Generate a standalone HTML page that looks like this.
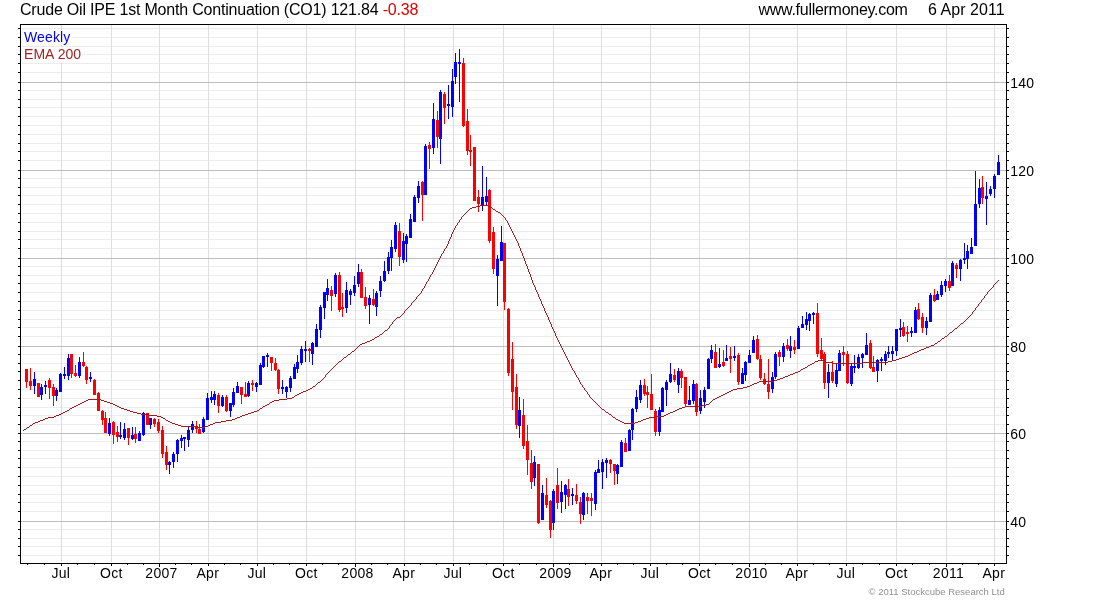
<!DOCTYPE html>
<html><head><meta charset="utf-8"><title>Crude Oil IPE 1st Month Continuation (CO1)</title>
<style>
html,body{margin:0;padding:0;background:#fff}
body{width:1100px;height:600px;position:relative;overflow:hidden;font-family:"Liberation Sans",Arial,sans-serif;color:#000}
.t{position:absolute;white-space:nowrap;font-size:16px;line-height:18px;top:1px}
.xl{position:absolute;top:565px;width:61px;text-align:center;font-size:14px;line-height:16px;white-space:nowrap;letter-spacing:0.25px}
.yr{letter-spacing:0.3px}
.yl{position:absolute;left:1010.2px;font-size:14px;line-height:16px;white-space:nowrap;letter-spacing:0.2px}
.lg{position:absolute;left:22px;padding:0 3px 0 2px;font-size:14px;line-height:15px;height:15px;white-space:nowrap;background:#fff;letter-spacing:0.3px}
.cp{position:absolute;left:868.5px;top:586px;font-size:9.5px;line-height:12px;color:#909090;white-space:nowrap}
</style></head><body>
<svg width="1100" height="600" viewBox="0 0 1100 600" shape-rendering="crispEdges" style="position:absolute;left:0;top:0">
<g fill="#ececec">
<rect x="22" y="72" width="983" height="1"/>
<rect x="22" y="63" width="983" height="1"/>
<rect x="22" y="54" width="983" height="1"/>
<rect x="22" y="46" width="983" height="1"/>
<rect x="22" y="37" width="983" height="1"/>
<rect x="22" y="28" width="983" height="1"/>
<rect x="22" y="90" width="983" height="1"/>
<rect x="22" y="99" width="983" height="1"/>
<rect x="22" y="107" width="983" height="1"/>
<rect x="22" y="116" width="983" height="1"/>
<rect x="22" y="125" width="983" height="1"/>
<rect x="22" y="134" width="983" height="1"/>
<rect x="22" y="143" width="983" height="1"/>
<rect x="22" y="151" width="983" height="1"/>
<rect x="22" y="160" width="983" height="1"/>
<rect x="22" y="178" width="983" height="1"/>
<rect x="22" y="187" width="983" height="1"/>
<rect x="22" y="195" width="983" height="1"/>
<rect x="22" y="204" width="983" height="1"/>
<rect x="22" y="213" width="983" height="1"/>
<rect x="22" y="222" width="983" height="1"/>
<rect x="22" y="231" width="983" height="1"/>
<rect x="22" y="239" width="983" height="1"/>
<rect x="22" y="248" width="983" height="1"/>
<rect x="22" y="266" width="983" height="1"/>
<rect x="22" y="275" width="983" height="1"/>
<rect x="22" y="283" width="983" height="1"/>
<rect x="22" y="292" width="983" height="1"/>
<rect x="22" y="301" width="983" height="1"/>
<rect x="22" y="310" width="983" height="1"/>
<rect x="22" y="319" width="983" height="1"/>
<rect x="22" y="327" width="983" height="1"/>
<rect x="22" y="336" width="983" height="1"/>
<rect x="22" y="354" width="983" height="1"/>
<rect x="22" y="363" width="983" height="1"/>
<rect x="22" y="371" width="983" height="1"/>
<rect x="22" y="380" width="983" height="1"/>
<rect x="22" y="389" width="983" height="1"/>
<rect x="22" y="398" width="983" height="1"/>
<rect x="22" y="407" width="983" height="1"/>
<rect x="22" y="415" width="983" height="1"/>
<rect x="22" y="424" width="983" height="1"/>
<rect x="22" y="441" width="983" height="1"/>
<rect x="22" y="450" width="983" height="1"/>
<rect x="22" y="458" width="983" height="1"/>
<rect x="22" y="467" width="983" height="1"/>
<rect x="22" y="476" width="983" height="1"/>
<rect x="22" y="485" width="983" height="1"/>
<rect x="22" y="494" width="983" height="1"/>
<rect x="22" y="502" width="983" height="1"/>
<rect x="22" y="511" width="983" height="1"/>
<rect x="22" y="529" width="983" height="1"/>
<rect x="22" y="538" width="983" height="1"/>
<rect x="22" y="546" width="983" height="1"/>
<rect x="22" y="555" width="983" height="1"/>
</g><g fill="#dedede">
<rect x="61" y="25" width="1" height="537"/>
<rect x="111" y="25" width="1" height="537"/>
<rect x="159" y="25" width="1" height="537"/>
<rect x="208" y="25" width="1" height="537"/>
<rect x="257" y="25" width="1" height="537"/>
<rect x="306" y="25" width="1" height="537"/>
<rect x="355" y="25" width="1" height="537"/>
<rect x="404" y="25" width="1" height="537"/>
<rect x="453" y="25" width="1" height="537"/>
<rect x="503" y="25" width="1" height="537"/>
<rect x="553" y="25" width="1" height="537"/>
<rect x="601" y="25" width="1" height="537"/>
<rect x="650" y="25" width="1" height="537"/>
<rect x="699" y="25" width="1" height="537"/>
<rect x="749" y="25" width="1" height="537"/>
<rect x="797" y="25" width="1" height="537"/>
<rect x="846" y="25" width="1" height="537"/>
<rect x="896" y="25" width="1" height="537"/>
<rect x="946" y="25" width="1" height="537"/>
<rect x="994" y="25" width="1" height="537"/>
</g><g fill="#bcbcbc">
<rect x="21" y="82" width="985" height="1"/>
<rect x="21" y="170" width="985" height="1"/>
<rect x="21" y="258" width="985" height="1"/>
<rect x="21" y="346" width="985" height="1"/>
<rect x="21" y="433" width="985" height="1"/>
<rect x="21" y="521" width="985" height="1"/>
</g>
<g fill="#ff0000">
<rect x="26" y="369" width="1" height="19"/><rect x="25" y="369" width="3" height="13"/>
<rect x="30" y="368" width="1" height="22"/><rect x="29" y="381" width="3" height="5"/>
</g>
<g fill="#0000ff">
<rect x="34" y="372" width="1" height="22"/><rect x="33" y="379" width="3" height="7"/>
</g>
<g fill="#ff0000">
<rect x="38" y="383" width="1" height="14"/><rect x="37" y="383" width="3" height="14"/>
</g>
<g fill="#0000ff">
<rect x="41" y="384" width="1" height="16"/><rect x="40" y="387" width="3" height="8"/>
<rect x="45" y="381" width="1" height="13"/><rect x="44" y="385" width="3" height="2"/>
</g>
<g fill="#ff0000">
<rect x="49" y="378" width="1" height="21"/><rect x="48" y="380" width="3" height="8"/>
<rect x="53" y="384" width="1" height="22"/><rect x="52" y="387" width="3" height="9"/>
</g>
<g fill="#0000ff">
<rect x="56" y="388" width="1" height="13"/><rect x="55" y="390" width="3" height="6"/>
<rect x="60" y="373" width="1" height="19"/><rect x="59" y="374" width="3" height="18"/>
<rect x="64" y="367" width="1" height="12"/><rect x="63" y="374" width="3" height="2"/>
<rect x="68" y="354" width="1" height="26"/><rect x="67" y="358" width="3" height="18"/>
</g>
<g fill="#ff0000">
<rect x="71" y="354" width="1" height="24"/><rect x="70" y="354" width="3" height="20"/>
<rect x="75" y="365" width="1" height="12"/><rect x="74" y="373" width="3" height="3"/>
</g>
<g fill="#0000ff">
<rect x="79" y="357" width="1" height="21"/><rect x="78" y="362" width="3" height="14"/>
</g>
<g fill="#ff0000">
<rect x="83" y="352" width="1" height="15"/><rect x="82" y="362" width="3" height="4"/>
<rect x="86" y="366" width="1" height="18"/><rect x="85" y="367" width="3" height="13"/>
</g>
<g fill="#0000ff">
<rect x="90" y="372" width="1" height="10"/><rect x="89" y="377" width="3" height="2"/>
</g>
<g fill="#ff0000">
<rect x="94" y="379" width="1" height="16"/><rect x="93" y="380" width="3" height="15"/>
<rect x="98" y="392" width="1" height="19"/><rect x="97" y="393" width="3" height="18"/>
<rect x="102" y="410" width="1" height="15"/><rect x="101" y="411" width="3" height="9"/>
<rect x="105" y="412" width="1" height="21"/><rect x="104" y="418" width="3" height="15"/>
</g>
<g fill="#0000ff">
<rect x="109" y="418" width="1" height="18"/><rect x="108" y="423" width="3" height="11"/>
</g>
<g fill="#ff0000">
<rect x="113" y="421" width="1" height="23"/><rect x="112" y="422" width="3" height="13"/>
<rect x="117" y="426" width="1" height="16"/><rect x="116" y="432" width="3" height="5"/>
</g>
<g fill="#0000ff">
<rect x="120" y="422" width="1" height="17"/><rect x="119" y="435" width="3" height="2"/>
<rect x="124" y="423" width="1" height="17"/><rect x="123" y="429" width="3" height="9"/>
</g>
<g fill="#ff0000">
<rect x="128" y="428" width="1" height="17"/><rect x="127" y="428" width="3" height="10"/>
</g>
<g fill="#0000ff">
<rect x="132" y="427" width="1" height="13"/><rect x="131" y="435" width="3" height="4"/>
</g>
<g fill="#ff0000">
<rect x="135" y="427" width="1" height="16"/><rect x="134" y="434" width="3" height="5"/>
</g>
<g fill="#0000ff">
<rect x="139" y="431" width="1" height="10"/><rect x="138" y="433" width="3" height="8"/>
<rect x="143" y="412" width="1" height="24"/><rect x="142" y="413" width="3" height="22"/>
</g>
<g fill="#ff0000">
<rect x="147" y="413" width="1" height="12"/><rect x="146" y="413" width="3" height="12"/>
</g>
<g fill="#0000ff">
<rect x="150" y="418" width="1" height="11"/><rect x="149" y="418" width="3" height="7"/>
</g>
<g fill="#ff0000">
<rect x="154" y="418" width="1" height="9"/><rect x="153" y="419" width="3" height="5"/>
<rect x="158" y="419" width="1" height="14"/><rect x="157" y="422" width="3" height="9"/>
<rect x="162" y="426" width="1" height="32"/><rect x="161" y="430" width="3" height="24"/>
<rect x="166" y="446" width="1" height="24"/><rect x="165" y="452" width="3" height="13"/>
</g>
<g fill="#0000ff">
<rect x="169" y="461" width="1" height="13"/><rect x="168" y="462" width="3" height="3"/>
<rect x="173" y="452" width="1" height="16"/><rect x="172" y="454" width="3" height="8"/>
<rect x="177" y="439" width="1" height="23"/><rect x="176" y="440" width="3" height="14"/>
<rect x="181" y="435" width="1" height="13"/><rect x="180" y="438" width="3" height="3"/>
<rect x="184" y="437" width="1" height="14"/><rect x="183" y="437" width="3" height="2"/>
<rect x="188" y="427" width="1" height="20"/><rect x="187" y="430" width="3" height="10"/>
<rect x="192" y="421" width="1" height="12"/><rect x="191" y="424" width="3" height="6"/>
</g>
<g fill="#ff0000">
<rect x="196" y="421" width="1" height="12"/><rect x="195" y="426" width="3" height="3"/>
<rect x="199" y="424" width="1" height="10"/><rect x="198" y="429" width="3" height="5"/>
</g>
<g fill="#0000ff">
<rect x="203" y="417" width="1" height="16"/><rect x="202" y="419" width="3" height="13"/>
<rect x="207" y="393" width="1" height="27"/><rect x="206" y="398" width="3" height="22"/>
<rect x="211" y="391" width="1" height="12"/><rect x="210" y="397" width="3" height="3"/>
<rect x="214" y="391" width="1" height="14"/><rect x="213" y="394" width="3" height="6"/>
</g>
<g fill="#ff0000">
<rect x="218" y="393" width="1" height="20"/><rect x="217" y="395" width="3" height="11"/>
</g>
<g fill="#0000ff">
<rect x="222" y="395" width="1" height="12"/><rect x="221" y="397" width="3" height="9"/>
</g>
<g fill="#ff0000">
<rect x="226" y="395" width="1" height="17"/><rect x="225" y="397" width="3" height="14"/>
</g>
<g fill="#0000ff">
<rect x="230" y="403" width="1" height="14"/><rect x="229" y="403" width="3" height="8"/>
<rect x="233" y="388" width="1" height="19"/><rect x="232" y="392" width="3" height="13"/>
<rect x="237" y="382" width="1" height="11"/><rect x="236" y="386" width="3" height="7"/>
</g>
<g fill="#ff0000">
<rect x="241" y="387" width="1" height="17"/><rect x="240" y="387" width="3" height="8"/>
<rect x="245" y="382" width="1" height="15"/><rect x="244" y="394" width="3" height="3"/>
</g>
<g fill="#0000ff">
<rect x="248" y="381" width="1" height="16"/><rect x="247" y="383" width="3" height="13"/>
</g>
<g fill="#ff0000">
<rect x="252" y="380" width="1" height="11"/><rect x="251" y="383" width="3" height="2"/>
</g>
<g fill="#0000ff">
<rect x="256" y="382" width="1" height="10"/><rect x="255" y="383" width="3" height="4"/>
<rect x="260" y="363" width="1" height="22"/><rect x="259" y="365" width="3" height="20"/>
<rect x="263" y="356" width="1" height="12"/><rect x="262" y="356" width="3" height="11"/>
<rect x="267" y="353" width="1" height="14"/><rect x="266" y="355" width="3" height="2"/>
</g>
<g fill="#ff0000">
<rect x="271" y="357" width="1" height="14"/><rect x="270" y="357" width="3" height="6"/>
<rect x="275" y="358" width="1" height="13"/><rect x="274" y="363" width="3" height="7"/>
<rect x="278" y="369" width="1" height="25"/><rect x="277" y="370" width="3" height="19"/>
</g>
<g fill="#0000ff">
<rect x="282" y="380" width="1" height="14"/><rect x="281" y="387" width="3" height="2"/>
<rect x="286" y="386" width="1" height="12"/><rect x="285" y="387" width="3" height="5"/>
<rect x="290" y="376" width="1" height="16"/><rect x="289" y="378" width="3" height="10"/>
<rect x="294" y="364" width="1" height="15"/><rect x="293" y="367" width="3" height="12"/>
<rect x="297" y="355" width="1" height="18"/><rect x="296" y="362" width="3" height="7"/>
<rect x="301" y="346" width="1" height="19"/><rect x="300" y="349" width="3" height="14"/>
<rect x="305" y="341" width="1" height="21"/><rect x="304" y="349" width="3" height="2"/>
</g>
<g fill="#ff0000">
<rect x="309" y="348" width="1" height="14"/><rect x="308" y="349" width="3" height="2"/>
</g>
<g fill="#0000ff">
<rect x="312" y="342" width="1" height="23"/><rect x="311" y="343" width="3" height="11"/>
<rect x="316" y="324" width="1" height="23"/><rect x="315" y="329" width="3" height="18"/>
<rect x="320" y="305" width="1" height="33"/><rect x="319" y="307" width="3" height="23"/>
<rect x="324" y="292" width="1" height="27"/><rect x="323" y="292" width="3" height="16"/>
<rect x="327" y="279" width="1" height="22"/><rect x="326" y="288" width="3" height="7"/>
</g>
<g fill="#ff0000">
<rect x="331" y="286" width="1" height="25"/><rect x="330" y="290" width="3" height="6"/>
</g>
<g fill="#0000ff">
<rect x="335" y="273" width="1" height="24"/><rect x="334" y="275" width="3" height="19"/>
</g>
<g fill="#ff0000">
<rect x="339" y="272" width="1" height="40"/><rect x="338" y="275" width="3" height="35"/>
<rect x="342" y="293" width="1" height="24"/><rect x="341" y="307" width="3" height="2"/>
</g>
<g fill="#0000ff">
<rect x="346" y="282" width="1" height="31"/><rect x="345" y="290" width="3" height="18"/>
<rect x="350" y="289" width="1" height="16"/><rect x="349" y="291" width="3" height="4"/>
<rect x="354" y="276" width="1" height="20"/><rect x="353" y="285" width="3" height="8"/>
<rect x="358" y="264" width="1" height="23"/><rect x="357" y="272" width="3" height="12"/>
</g>
<g fill="#ff0000">
<rect x="361" y="269" width="1" height="29"/><rect x="360" y="272" width="3" height="26"/>
<rect x="365" y="287" width="1" height="22"/><rect x="364" y="297" width="3" height="9"/>
</g>
<g fill="#0000ff">
<rect x="369" y="295" width="1" height="29"/><rect x="368" y="298" width="3" height="7"/>
</g>
<g fill="#ff0000">
<rect x="373" y="289" width="1" height="17"/><rect x="372" y="299" width="3" height="6"/>
</g>
<g fill="#0000ff">
<rect x="376" y="291" width="1" height="25"/><rect x="375" y="293" width="3" height="14"/>
<rect x="380" y="276" width="1" height="21"/><rect x="379" y="281" width="3" height="10"/>
<rect x="384" y="261" width="1" height="21"/><rect x="383" y="271" width="3" height="10"/>
<rect x="388" y="252" width="1" height="22"/><rect x="387" y="257" width="3" height="14"/>
<rect x="391" y="240" width="1" height="31"/><rect x="390" y="247" width="3" height="11"/>
<rect x="395" y="222" width="1" height="30"/><rect x="394" y="225" width="3" height="24"/>
</g>
<g fill="#ff0000">
<rect x="399" y="223" width="1" height="43"/><rect x="398" y="231" width="3" height="26"/>
</g>
<g fill="#0000ff">
<rect x="403" y="233" width="1" height="30"/><rect x="402" y="241" width="3" height="19"/>
<rect x="406" y="234" width="1" height="28"/><rect x="405" y="236" width="3" height="8"/>
<rect x="410" y="214" width="1" height="24"/><rect x="409" y="219" width="3" height="19"/>
<rect x="414" y="195" width="1" height="27"/><rect x="413" y="197" width="3" height="25"/>
<rect x="418" y="181" width="1" height="22"/><rect x="417" y="186" width="3" height="12"/>
</g>
<g fill="#ff0000">
<rect x="422" y="181" width="1" height="40"/><rect x="421" y="182" width="3" height="13"/>
</g>
<g fill="#0000ff">
<rect x="425" y="144" width="1" height="51"/><rect x="424" y="146" width="3" height="49"/>
</g>
<g fill="#ff0000">
<rect x="429" y="142" width="1" height="27"/><rect x="428" y="145" width="3" height="4"/>
</g>
<g fill="#0000ff">
<rect x="433" y="103" width="1" height="51"/><rect x="432" y="119" width="3" height="29"/>
</g>
<g fill="#ff0000">
<rect x="437" y="111" width="1" height="37"/><rect x="436" y="120" width="3" height="17"/>
</g>
<g fill="#0000ff">
<rect x="440" y="90" width="1" height="74"/><rect x="439" y="92" width="3" height="47"/>
</g>
<g fill="#ff0000">
<rect x="444" y="92" width="1" height="32"/><rect x="443" y="94" width="3" height="14"/>
</g>
<g fill="#0000ff">
<rect x="448" y="85" width="1" height="34"/><rect x="447" y="104" width="3" height="2"/>
<rect x="452" y="69" width="1" height="48"/><rect x="451" y="81" width="3" height="26"/>
<rect x="455" y="53" width="1" height="31"/><rect x="454" y="62" width="3" height="15"/>
<rect x="459" y="49" width="1" height="53"/><rect x="458" y="62" width="3" height="2"/>
</g>
<g fill="#ff0000">
<rect x="463" y="58" width="1" height="69"/><rect x="462" y="63" width="3" height="63"/>
<rect x="467" y="109" width="1" height="46"/><rect x="466" y="121" width="3" height="30"/>
<rect x="470" y="135" width="1" height="31"/><rect x="469" y="150" width="3" height="2"/>
<rect x="474" y="147" width="1" height="54"/><rect x="473" y="147" width="3" height="54"/>
<rect x="478" y="190" width="1" height="22"/><rect x="477" y="197" width="3" height="7"/>
</g>
<g fill="#0000ff">
<rect x="482" y="166" width="1" height="45"/><rect x="481" y="197" width="3" height="8"/>
<rect x="486" y="177" width="1" height="29"/><rect x="485" y="196" width="3" height="6"/>
</g>
<g fill="#ff0000">
<rect x="489" y="189" width="1" height="54"/><rect x="488" y="190" width="3" height="51"/>
<rect x="493" y="227" width="1" height="47"/><rect x="492" y="232" width="3" height="37"/>
</g>
<g fill="#0000ff">
<rect x="497" y="255" width="1" height="51"/><rect x="496" y="259" width="3" height="17"/>
<rect x="501" y="226" width="1" height="35"/><rect x="500" y="242" width="3" height="19"/>
</g>
<g fill="#ff0000">
<rect x="504" y="243" width="1" height="67"/><rect x="503" y="243" width="3" height="59"/>
<rect x="508" y="308" width="1" height="68"/><rect x="507" y="309" width="3" height="64"/>
<rect x="512" y="342" width="1" height="68"/><rect x="511" y="359" width="3" height="33"/>
<rect x="516" y="374" width="1" height="55"/><rect x="515" y="387" width="3" height="38"/>
</g>
<g fill="#0000ff">
<rect x="519" y="397" width="1" height="41"/><rect x="518" y="410" width="3" height="16"/>
</g>
<g fill="#ff0000">
<rect x="523" y="399" width="1" height="50"/><rect x="522" y="415" width="3" height="31"/>
<rect x="527" y="425" width="1" height="50"/><rect x="526" y="441" width="3" height="19"/>
<rect x="531" y="450" width="1" height="39"/><rect x="530" y="463" width="3" height="19"/>
</g>
<g fill="#0000ff">
<rect x="534" y="456" width="1" height="30"/><rect x="533" y="462" width="3" height="16"/>
</g>
<g fill="#ff0000">
<rect x="538" y="464" width="1" height="60"/><rect x="537" y="464" width="3" height="59"/>
</g>
<g fill="#0000ff">
<rect x="542" y="485" width="1" height="35"/><rect x="541" y="493" width="3" height="27"/>
</g>
<g fill="#ff0000">
<rect x="546" y="478" width="1" height="30"/><rect x="545" y="495" width="3" height="10"/>
<rect x="550" y="500" width="1" height="38"/><rect x="549" y="501" width="3" height="29"/>
</g>
<g fill="#0000ff">
<rect x="553" y="489" width="1" height="41"/><rect x="552" y="491" width="3" height="32"/>
</g>
<g fill="#ff0000">
<rect x="557" y="468" width="1" height="41"/><rect x="556" y="485" width="3" height="18"/>
</g>
<g fill="#0000ff">
<rect x="561" y="481" width="1" height="32"/><rect x="560" y="492" width="3" height="10"/>
<rect x="565" y="484" width="1" height="25"/><rect x="564" y="485" width="3" height="10"/>
</g>
<g fill="#ff0000">
<rect x="568" y="479" width="1" height="27"/><rect x="567" y="489" width="3" height="8"/>
</g>
<g fill="#0000ff">
<rect x="572" y="488" width="1" height="17"/><rect x="571" y="494" width="3" height="2"/>
</g>
<g fill="#ff0000">
<rect x="576" y="484" width="1" height="20"/><rect x="575" y="495" width="3" height="6"/>
<rect x="580" y="497" width="1" height="27"/><rect x="579" y="502" width="3" height="12"/>
</g>
<g fill="#0000ff">
<rect x="583" y="492" width="1" height="28"/><rect x="582" y="493" width="3" height="22"/>
</g>
<g fill="#ff0000">
<rect x="587" y="493" width="1" height="21"/><rect x="586" y="497" width="3" height="4"/>
<rect x="591" y="493" width="1" height="23"/><rect x="590" y="498" width="3" height="3"/>
</g>
<g fill="#0000ff">
<rect x="595" y="470" width="1" height="40"/><rect x="594" y="472" width="3" height="32"/>
<rect x="598" y="460" width="1" height="13"/><rect x="597" y="469" width="3" height="4"/>
<rect x="602" y="459" width="1" height="30"/><rect x="601" y="462" width="3" height="10"/>
<rect x="606" y="458" width="1" height="20"/><rect x="605" y="460" width="3" height="3"/>
</g>
<g fill="#ff0000">
<rect x="610" y="459" width="1" height="14"/><rect x="609" y="460" width="3" height="4"/>
<rect x="614" y="464" width="1" height="21"/><rect x="613" y="464" width="3" height="7"/>
</g>
<g fill="#0000ff">
<rect x="617" y="464" width="1" height="20"/><rect x="616" y="465" width="3" height="9"/>
<rect x="621" y="440" width="1" height="27"/><rect x="620" y="442" width="3" height="25"/>
</g>
<g fill="#ff0000">
<rect x="625" y="438" width="1" height="14"/><rect x="624" y="443" width="3" height="9"/>
</g>
<g fill="#0000ff">
<rect x="629" y="429" width="1" height="22"/><rect x="628" y="430" width="3" height="21"/>
<rect x="632" y="408" width="1" height="32"/><rect x="631" y="409" width="3" height="21"/>
<rect x="636" y="390" width="1" height="22"/><rect x="635" y="397" width="3" height="12"/>
<rect x="640" y="380" width="1" height="23"/><rect x="639" y="385" width="3" height="15"/>
</g>
<g fill="#ff0000">
<rect x="644" y="379" width="1" height="17"/><rect x="643" y="385" width="3" height="9"/>
<rect x="647" y="386" width="1" height="22"/><rect x="646" y="392" width="3" height="3"/>
<rect x="651" y="374" width="1" height="36"/><rect x="650" y="394" width="3" height="16"/>
<rect x="655" y="409" width="1" height="27"/><rect x="654" y="411" width="3" height="21"/>
</g>
<g fill="#0000ff">
<rect x="659" y="407" width="1" height="29"/><rect x="658" y="410" width="3" height="22"/>
<rect x="662" y="387" width="1" height="25"/><rect x="661" y="388" width="3" height="24"/>
<rect x="666" y="380" width="1" height="26"/><rect x="665" y="382" width="3" height="8"/>
<rect x="670" y="363" width="1" height="20"/><rect x="669" y="374" width="3" height="8"/>
</g>
<g fill="#ff0000">
<rect x="674" y="369" width="1" height="13"/><rect x="673" y="375" width="3" height="5"/>
</g>
<g fill="#0000ff">
<rect x="678" y="368" width="1" height="25"/><rect x="677" y="371" width="3" height="14"/>
</g>
<g fill="#ff0000">
<rect x="681" y="369" width="1" height="19"/><rect x="680" y="371" width="3" height="7"/>
<rect x="685" y="377" width="1" height="30"/><rect x="684" y="377" width="3" height="27"/>
</g>
<g fill="#0000ff">
<rect x="689" y="386" width="1" height="19"/><rect x="688" y="400" width="3" height="5"/>
<rect x="693" y="380" width="1" height="24"/><rect x="692" y="384" width="3" height="17"/>
</g>
<g fill="#ff0000">
<rect x="696" y="383" width="1" height="33"/><rect x="695" y="384" width="3" height="28"/>
</g>
<g fill="#0000ff">
<rect x="700" y="390" width="1" height="24"/><rect x="699" y="398" width="3" height="13"/>
<rect x="704" y="387" width="1" height="21"/><rect x="703" y="390" width="3" height="12"/>
<rect x="708" y="358" width="1" height="31"/><rect x="707" y="359" width="3" height="30"/>
<rect x="711" y="345" width="1" height="18"/><rect x="710" y="350" width="3" height="9"/>
</g>
<g fill="#ff0000">
<rect x="715" y="344" width="1" height="24"/><rect x="714" y="352" width="3" height="16"/>
</g>
<g fill="#0000ff">
<rect x="719" y="348" width="1" height="20"/><rect x="718" y="364" width="3" height="3"/>
</g>
<g fill="#ff0000">
<rect x="723" y="350" width="1" height="17"/><rect x="722" y="362" width="3" height="4"/>
</g>
<g fill="#0000ff">
<rect x="726" y="345" width="1" height="16"/><rect x="725" y="358" width="3" height="3"/>
</g>
<g fill="#ff0000">
<rect x="730" y="347" width="1" height="26"/><rect x="729" y="356" width="3" height="3"/>
</g>
<g fill="#0000ff">
<rect x="734" y="346" width="1" height="15"/><rect x="733" y="356" width="3" height="2"/>
</g>
<g fill="#ff0000">
<rect x="738" y="353" width="1" height="32"/><rect x="737" y="355" width="3" height="27"/>
</g>
<g fill="#0000ff">
<rect x="742" y="368" width="1" height="16"/><rect x="741" y="373" width="3" height="11"/>
<rect x="745" y="361" width="1" height="20"/><rect x="744" y="362" width="3" height="13"/>
<rect x="749" y="350" width="1" height="13"/><rect x="748" y="355" width="3" height="8"/>
<rect x="753" y="336" width="1" height="17"/><rect x="752" y="340" width="3" height="13"/>
</g>
<g fill="#ff0000">
<rect x="757" y="335" width="1" height="25"/><rect x="756" y="339" width="3" height="20"/>
<rect x="760" y="355" width="1" height="25"/><rect x="759" y="359" width="3" height="19"/>
<rect x="764" y="373" width="1" height="12"/><rect x="763" y="379" width="3" height="5"/>
<rect x="768" y="359" width="1" height="40"/><rect x="767" y="384" width="3" height="8"/>
</g>
<g fill="#0000ff">
<rect x="772" y="372" width="1" height="21"/><rect x="771" y="377" width="3" height="12"/>
<rect x="775" y="352" width="1" height="27"/><rect x="774" y="354" width="3" height="23"/>
</g>
<g fill="#ff0000">
<rect x="779" y="350" width="1" height="16"/><rect x="778" y="352" width="3" height="5"/>
</g>
<g fill="#0000ff">
<rect x="783" y="343" width="1" height="19"/><rect x="782" y="346" width="3" height="11"/>
</g>
<g fill="#ff0000">
<rect x="787" y="339" width="1" height="12"/><rect x="786" y="345" width="3" height="4"/>
</g>
<g fill="#0000ff">
<rect x="790" y="336" width="1" height="22"/><rect x="789" y="346" width="3" height="5"/>
</g>
<g fill="#ff0000">
<rect x="794" y="340" width="1" height="14"/><rect x="793" y="347" width="3" height="3"/>
</g>
<g fill="#0000ff">
<rect x="798" y="326" width="1" height="23"/><rect x="797" y="328" width="3" height="21"/>
<rect x="802" y="316" width="1" height="12"/><rect x="801" y="324" width="3" height="4"/>
<rect x="806" y="312" width="1" height="18"/><rect x="805" y="319" width="3" height="6"/>
<rect x="809" y="313" width="1" height="18"/><rect x="808" y="314" width="3" height="7"/>
<rect x="813" y="312" width="1" height="12"/><rect x="812" y="313" width="3" height="2"/>
</g>
<g fill="#ff0000">
<rect x="817" y="303" width="1" height="54"/><rect x="816" y="313" width="3" height="41"/>
<rect x="821" y="338" width="1" height="22"/><rect x="820" y="350" width="3" height="9"/>
<rect x="824" y="352" width="1" height="37"/><rect x="823" y="354" width="3" height="29"/>
</g>
<g fill="#0000ff">
<rect x="828" y="364" width="1" height="34"/><rect x="827" y="372" width="3" height="11"/>
</g>
<g fill="#ff0000">
<rect x="832" y="361" width="1" height="22"/><rect x="831" y="372" width="3" height="9"/>
</g>
<g fill="#0000ff">
<rect x="836" y="364" width="1" height="23"/><rect x="835" y="370" width="3" height="14"/>
<rect x="839" y="350" width="1" height="21"/><rect x="838" y="353" width="3" height="18"/>
</g>
<g fill="#ff0000">
<rect x="843" y="346" width="1" height="20"/><rect x="842" y="352" width="3" height="3"/>
<rect x="847" y="351" width="1" height="33"/><rect x="846" y="354" width="3" height="29"/>
</g>
<g fill="#0000ff">
<rect x="851" y="364" width="1" height="22"/><rect x="850" y="366" width="3" height="18"/>
<rect x="854" y="355" width="1" height="18"/><rect x="853" y="366" width="3" height="2"/>
<rect x="858" y="354" width="1" height="15"/><rect x="857" y="357" width="3" height="11"/>
<rect x="862" y="353" width="1" height="15"/><rect x="861" y="354" width="3" height="4"/>
<rect x="866" y="333" width="1" height="22"/><rect x="865" y="345" width="3" height="10"/>
</g>
<g fill="#ff0000">
<rect x="870" y="340" width="1" height="29"/><rect x="869" y="343" width="3" height="25"/>
<rect x="873" y="356" width="1" height="16"/><rect x="872" y="367" width="3" height="5"/>
</g>
<g fill="#0000ff">
<rect x="877" y="359" width="1" height="23"/><rect x="876" y="360" width="3" height="11"/>
<rect x="881" y="357" width="1" height="14"/><rect x="880" y="359" width="3" height="2"/>
<rect x="885" y="351" width="1" height="14"/><rect x="884" y="354" width="3" height="7"/>
<rect x="888" y="346" width="1" height="12"/><rect x="887" y="352" width="3" height="2"/>
<rect x="892" y="346" width="1" height="14"/><rect x="891" y="351" width="3" height="3"/>
<rect x="896" y="329" width="1" height="27"/><rect x="895" y="329" width="3" height="22"/>
<rect x="900" y="319" width="1" height="18"/><rect x="899" y="328" width="3" height="2"/>
</g>
<g fill="#ff0000">
<rect x="903" y="322" width="1" height="15"/><rect x="902" y="327" width="3" height="9"/>
<rect x="907" y="326" width="1" height="16"/><rect x="906" y="332" width="3" height="2"/>
</g>
<g fill="#0000ff">
<rect x="911" y="327" width="1" height="10"/><rect x="910" y="331" width="3" height="2"/>
<rect x="915" y="307" width="1" height="26"/><rect x="914" y="310" width="3" height="23"/>
</g>
<g fill="#ff0000">
<rect x="918" y="303" width="1" height="17"/><rect x="917" y="309" width="3" height="10"/>
<rect x="922" y="313" width="1" height="20"/><rect x="921" y="317" width="3" height="11"/>
</g>
<g fill="#0000ff">
<rect x="926" y="317" width="1" height="18"/><rect x="925" y="321" width="3" height="7"/>
<rect x="930" y="293" width="1" height="29"/><rect x="929" y="295" width="3" height="27"/>
</g>
<g fill="#ff0000">
<rect x="934" y="289" width="1" height="13"/><rect x="933" y="295" width="3" height="6"/>
</g>
<g fill="#0000ff">
<rect x="937" y="291" width="1" height="9"/><rect x="936" y="294" width="3" height="6"/>
<rect x="941" y="281" width="1" height="16"/><rect x="940" y="285" width="3" height="10"/>
<rect x="945" y="279" width="1" height="13"/><rect x="944" y="281" width="3" height="5"/>
</g>
<g fill="#ff0000">
<rect x="949" y="275" width="1" height="16"/><rect x="948" y="281" width="3" height="7"/>
</g>
<g fill="#0000ff">
<rect x="952" y="261" width="1" height="25"/><rect x="951" y="263" width="3" height="23"/>
</g>
<g fill="#ff0000">
<rect x="956" y="263" width="1" height="15"/><rect x="955" y="265" width="3" height="4"/>
</g>
<g fill="#0000ff">
<rect x="960" y="259" width="1" height="22"/><rect x="959" y="260" width="3" height="9"/>
<rect x="964" y="243" width="1" height="21"/><rect x="963" y="258" width="3" height="2"/>
<rect x="967" y="245" width="1" height="24"/><rect x="966" y="251" width="3" height="8"/>
<rect x="971" y="238" width="1" height="16"/><rect x="970" y="247" width="3" height="7"/>
<rect x="975" y="171" width="1" height="75"/><rect x="974" y="204" width="3" height="42"/>
<rect x="979" y="179" width="1" height="29"/><rect x="978" y="188" width="3" height="16"/>
</g>
<g fill="#ff0000">
<rect x="982" y="176" width="1" height="28"/><rect x="981" y="187" width="3" height="11"/>
</g>
<g fill="#0000ff">
<rect x="986" y="182" width="1" height="43"/><rect x="985" y="196" width="3" height="3"/>
<rect x="990" y="186" width="1" height="10"/><rect x="989" y="189" width="3" height="5"/>
<rect x="994" y="174" width="1" height="24"/><rect x="993" y="176" width="3" height="13"/>
<rect x="998" y="155" width="1" height="20"/><rect x="997" y="162" width="3" height="13"/>
</g>
<g fill="#a01c1c">
<rect x="23" y="430" width="1" height="1"/>
<rect x="24" y="429" width="2" height="1"/>
<rect x="26" y="428" width="1" height="1"/>
<rect x="27" y="427" width="2" height="1"/>
<rect x="29" y="426" width="1" height="1"/>
<rect x="30" y="425" width="2" height="1"/>
<rect x="32" y="424" width="1" height="1"/>
<rect x="33" y="423" width="2" height="1"/>
<rect x="35" y="422" width="3" height="1"/>
<rect x="38" y="421" width="2" height="1"/>
<rect x="40" y="420" width="3" height="1"/>
<rect x="43" y="419" width="2" height="1"/>
<rect x="45" y="418" width="3" height="1"/>
<rect x="48" y="417" width="6" height="1"/>
<rect x="54" y="416" width="2" height="1"/>
<rect x="56" y="415" width="3" height="1"/>
<rect x="59" y="414" width="2" height="1"/>
<rect x="61" y="413" width="2" height="1"/>
<rect x="63" y="412" width="2" height="1"/>
<rect x="65" y="411" width="2" height="1"/>
<rect x="67" y="410" width="2" height="1"/>
<rect x="69" y="409" width="1" height="1"/>
<rect x="70" y="408" width="2" height="1"/>
<rect x="72" y="407" width="2" height="1"/>
<rect x="74" y="406" width="2" height="1"/>
<rect x="76" y="405" width="2" height="1"/>
<rect x="78" y="404" width="2" height="1"/>
<rect x="80" y="403" width="2" height="1"/>
<rect x="82" y="402" width="2" height="1"/>
<rect x="84" y="401" width="2" height="1"/>
<rect x="86" y="400" width="2" height="1"/>
<rect x="88" y="399" width="13" height="1"/>
<rect x="101" y="400" width="3" height="1"/>
<rect x="104" y="401" width="3" height="1"/>
<rect x="107" y="402" width="3" height="1"/>
<rect x="110" y="403" width="3" height="1"/>
<rect x="113" y="404" width="2" height="1"/>
<rect x="115" y="405" width="2" height="1"/>
<rect x="117" y="406" width="2" height="1"/>
<rect x="119" y="407" width="2" height="1"/>
<rect x="121" y="408" width="3" height="1"/>
<rect x="124" y="409" width="3" height="1"/>
<rect x="127" y="410" width="3" height="1"/>
<rect x="130" y="411" width="3" height="1"/>
<rect x="133" y="412" width="4" height="1"/>
<rect x="137" y="413" width="4" height="1"/>
<rect x="141" y="414" width="8" height="1"/>
<rect x="149" y="415" width="8" height="1"/>
<rect x="157" y="416" width="4" height="1"/>
<rect x="161" y="417" width="2" height="1"/>
<rect x="163" y="418" width="2" height="1"/>
<rect x="165" y="419" width="1" height="1"/>
<rect x="166" y="420" width="2" height="1"/>
<rect x="168" y="421" width="2" height="1"/>
<rect x="170" y="422" width="2" height="1"/>
<rect x="172" y="423" width="3" height="1"/>
<rect x="175" y="424" width="3" height="1"/>
<rect x="178" y="425" width="3" height="1"/>
<rect x="181" y="426" width="14" height="1"/>
<rect x="195" y="427" width="10" height="1"/>
<rect x="205" y="426" width="3" height="1"/>
<rect x="208" y="425" width="2" height="1"/>
<rect x="210" y="424" width="3" height="1"/>
<rect x="213" y="423" width="2" height="1"/>
<rect x="215" y="422" width="6" height="1"/>
<rect x="221" y="421" width="5" height="1"/>
<rect x="226" y="420" width="6" height="1"/>
<rect x="232" y="419" width="3" height="1"/>
<rect x="235" y="418" width="2" height="1"/>
<rect x="237" y="417" width="3" height="1"/>
<rect x="240" y="416" width="2" height="1"/>
<rect x="242" y="415" width="3" height="1"/>
<rect x="245" y="414" width="3" height="1"/>
<rect x="248" y="413" width="3" height="1"/>
<rect x="251" y="412" width="3" height="1"/>
<rect x="254" y="411" width="3" height="1"/>
<rect x="257" y="410" width="2" height="1"/>
<rect x="259" y="409" width="1" height="1"/>
<rect x="260" y="408" width="2" height="1"/>
<rect x="262" y="407" width="1" height="1"/>
<rect x="263" y="406" width="2" height="1"/>
<rect x="265" y="405" width="2" height="1"/>
<rect x="267" y="404" width="2" height="1"/>
<rect x="269" y="403" width="1" height="1"/>
<rect x="270" y="402" width="2" height="1"/>
<rect x="272" y="401" width="2" height="1"/>
<rect x="274" y="400" width="5" height="1"/>
<rect x="279" y="399" width="8" height="1"/>
<rect x="287" y="398" width="5" height="1"/>
<rect x="292" y="397" width="2" height="1"/>
<rect x="294" y="396" width="1" height="1"/>
<rect x="295" y="395" width="2" height="1"/>
<rect x="297" y="394" width="2" height="1"/>
<rect x="299" y="393" width="2" height="1"/>
<rect x="301" y="392" width="2" height="1"/>
<rect x="303" y="391" width="3" height="1"/>
<rect x="306" y="390" width="2" height="1"/>
<rect x="308" y="389" width="2" height="1"/>
<rect x="310" y="388" width="2" height="1"/>
<rect x="312" y="387" width="1" height="1"/>
<rect x="313" y="386" width="2" height="1"/>
<rect x="315" y="385" width="1" height="1"/>
<rect x="316" y="384" width="1" height="1"/>
<rect x="317" y="383" width="1" height="1"/>
<rect x="318" y="382" width="2" height="1"/>
<rect x="320" y="381" width="1" height="1"/>
<rect x="321" y="380" width="1" height="1"/>
<rect x="322" y="379" width="1" height="1"/>
<rect x="323" y="378" width="1" height="1"/>
<rect x="324" y="377" width="1" height="1"/>
<rect x="325" y="375" width="1" height="2"/>
<rect x="326" y="374" width="1" height="1"/>
<rect x="327" y="373" width="1" height="1"/>
<rect x="328" y="372" width="1" height="1"/>
<rect x="329" y="371" width="1" height="1"/>
<rect x="330" y="370" width="1" height="1"/>
<rect x="331" y="369" width="1" height="1"/>
<rect x="332" y="368" width="1" height="1"/>
<rect x="333" y="367" width="1" height="1"/>
<rect x="334" y="366" width="1" height="1"/>
<rect x="335" y="365" width="1" height="1"/>
<rect x="336" y="364" width="1" height="1"/>
<rect x="337" y="363" width="1" height="1"/>
<rect x="338" y="362" width="1" height="1"/>
<rect x="339" y="361" width="2" height="1"/>
<rect x="341" y="360" width="1" height="1"/>
<rect x="342" y="359" width="1" height="1"/>
<rect x="343" y="358" width="1" height="1"/>
<rect x="344" y="357" width="2" height="1"/>
<rect x="346" y="356" width="1" height="1"/>
<rect x="347" y="355" width="1" height="1"/>
<rect x="348" y="354" width="2" height="1"/>
<rect x="350" y="353" width="1" height="1"/>
<rect x="351" y="352" width="1" height="1"/>
<rect x="352" y="351" width="2" height="1"/>
<rect x="354" y="350" width="1" height="1"/>
<rect x="355" y="349" width="1" height="1"/>
<rect x="356" y="348" width="1" height="1"/>
<rect x="357" y="347" width="1" height="1"/>
<rect x="358" y="346" width="1" height="1"/>
<rect x="359" y="345" width="1" height="1"/>
<rect x="360" y="344" width="2" height="1"/>
<rect x="362" y="343" width="3" height="1"/>
<rect x="365" y="342" width="2" height="1"/>
<rect x="367" y="341" width="3" height="1"/>
<rect x="370" y="340" width="2" height="1"/>
<rect x="372" y="339" width="2" height="1"/>
<rect x="374" y="338" width="1" height="1"/>
<rect x="375" y="337" width="2" height="1"/>
<rect x="377" y="336" width="2" height="1"/>
<rect x="379" y="335" width="1" height="1"/>
<rect x="380" y="334" width="2" height="1"/>
<rect x="382" y="333" width="1" height="1"/>
<rect x="383" y="332" width="1" height="1"/>
<rect x="384" y="331" width="1" height="1"/>
<rect x="385" y="330" width="2" height="1"/>
<rect x="387" y="329" width="1" height="1"/>
<rect x="388" y="328" width="1" height="1"/>
<rect x="389" y="326" width="1" height="2"/>
<rect x="390" y="325" width="1" height="1"/>
<rect x="391" y="324" width="1" height="1"/>
<rect x="392" y="322" width="1" height="2"/>
<rect x="393" y="321" width="1" height="1"/>
<rect x="394" y="320" width="1" height="1"/>
<rect x="395" y="319" width="1" height="1"/>
<rect x="396" y="318" width="1" height="1"/>
<rect x="397" y="317" width="3" height="1"/>
<rect x="400" y="316" width="1" height="1"/>
<rect x="401" y="315" width="1" height="1"/>
<rect x="402" y="314" width="1" height="1"/>
<rect x="403" y="313" width="1" height="1"/>
<rect x="404" y="311" width="1" height="2"/>
<rect x="405" y="310" width="1" height="1"/>
<rect x="406" y="309" width="1" height="1"/>
<rect x="407" y="308" width="1" height="1"/>
<rect x="408" y="307" width="1" height="1"/>
<rect x="409" y="306" width="1" height="1"/>
<rect x="410" y="305" width="1" height="1"/>
<rect x="411" y="303" width="1" height="2"/>
<rect x="412" y="302" width="1" height="1"/>
<rect x="413" y="301" width="1" height="1"/>
<rect x="414" y="300" width="1" height="1"/>
<rect x="415" y="299" width="1" height="1"/>
<rect x="416" y="297" width="1" height="2"/>
<rect x="417" y="296" width="1" height="1"/>
<rect x="418" y="295" width="1" height="1"/>
<rect x="419" y="294" width="1" height="1"/>
<rect x="420" y="293" width="1" height="1"/>
<rect x="421" y="291" width="1" height="2"/>
<rect x="422" y="289" width="1" height="2"/>
<rect x="423" y="288" width="1" height="1"/>
<rect x="424" y="286" width="1" height="2"/>
<rect x="425" y="284" width="1" height="2"/>
<rect x="426" y="282" width="1" height="2"/>
<rect x="427" y="281" width="1" height="1"/>
<rect x="428" y="279" width="1" height="2"/>
<rect x="429" y="277" width="1" height="2"/>
<rect x="430" y="275" width="1" height="2"/>
<rect x="431" y="274" width="1" height="1"/>
<rect x="432" y="272" width="1" height="2"/>
<rect x="433" y="270" width="1" height="2"/>
<rect x="434" y="268" width="1" height="2"/>
<rect x="435" y="266" width="1" height="2"/>
<rect x="436" y="264" width="1" height="2"/>
<rect x="437" y="262" width="1" height="2"/>
<rect x="438" y="260" width="1" height="2"/>
<rect x="439" y="258" width="1" height="2"/>
<rect x="440" y="256" width="1" height="2"/>
<rect x="441" y="254" width="1" height="2"/>
<rect x="442" y="253" width="1" height="1"/>
<rect x="443" y="251" width="1" height="2"/>
<rect x="444" y="249" width="1" height="2"/>
<rect x="445" y="248" width="1" height="1"/>
<rect x="446" y="246" width="1" height="2"/>
<rect x="447" y="244" width="1" height="2"/>
<rect x="448" y="241" width="1" height="3"/>
<rect x="449" y="239" width="1" height="2"/>
<rect x="450" y="237" width="1" height="2"/>
<rect x="451" y="234" width="1" height="3"/>
<rect x="452" y="232" width="1" height="2"/>
<rect x="453" y="230" width="1" height="2"/>
<rect x="454" y="228" width="1" height="2"/>
<rect x="455" y="226" width="1" height="2"/>
<rect x="456" y="225" width="1" height="1"/>
<rect x="457" y="223" width="1" height="2"/>
<rect x="458" y="222" width="1" height="1"/>
<rect x="459" y="220" width="1" height="2"/>
<rect x="460" y="219" width="1" height="1"/>
<rect x="461" y="217" width="1" height="2"/>
<rect x="462" y="216" width="1" height="1"/>
<rect x="463" y="215" width="1" height="1"/>
<rect x="464" y="214" width="1" height="1"/>
<rect x="465" y="213" width="1" height="1"/>
<rect x="466" y="212" width="1" height="1"/>
<rect x="467" y="211" width="1" height="1"/>
<rect x="468" y="210" width="1" height="1"/>
<rect x="469" y="209" width="1" height="1"/>
<rect x="470" y="208" width="2" height="1"/>
<rect x="472" y="207" width="4" height="1"/>
<rect x="476" y="206" width="4" height="1"/>
<rect x="480" y="205" width="8" height="1"/>
<rect x="488" y="206" width="2" height="1"/>
<rect x="490" y="207" width="2" height="1"/>
<rect x="492" y="208" width="1" height="1"/>
<rect x="493" y="209" width="2" height="1"/>
<rect x="495" y="210" width="1" height="1"/>
<rect x="496" y="211" width="2" height="1"/>
<rect x="498" y="212" width="2" height="1"/>
<rect x="500" y="213" width="1" height="1"/>
<rect x="501" y="214" width="1" height="1"/>
<rect x="502" y="215" width="1" height="1"/>
<rect x="503" y="216" width="1" height="1"/>
<rect x="504" y="217" width="1" height="1"/>
<rect x="505" y="218" width="1" height="2"/>
<rect x="506" y="220" width="1" height="1"/>
<rect x="507" y="221" width="1" height="2"/>
<rect x="508" y="223" width="1" height="2"/>
<rect x="509" y="225" width="1" height="2"/>
<rect x="510" y="227" width="1" height="2"/>
<rect x="511" y="229" width="1" height="2"/>
<rect x="512" y="231" width="1" height="2"/>
<rect x="513" y="233" width="1" height="2"/>
<rect x="514" y="235" width="1" height="2"/>
<rect x="515" y="237" width="1" height="2"/>
<rect x="516" y="239" width="1" height="2"/>
<rect x="517" y="241" width="1" height="2"/>
<rect x="518" y="243" width="1" height="3"/>
<rect x="519" y="246" width="1" height="2"/>
<rect x="520" y="248" width="1" height="3"/>
<rect x="521" y="251" width="1" height="2"/>
<rect x="522" y="253" width="1" height="3"/>
<rect x="523" y="256" width="1" height="2"/>
<rect x="524" y="258" width="1" height="3"/>
<rect x="525" y="261" width="1" height="3"/>
<rect x="526" y="264" width="1" height="2"/>
<rect x="527" y="266" width="1" height="3"/>
<rect x="528" y="269" width="1" height="3"/>
<rect x="529" y="272" width="1" height="2"/>
<rect x="530" y="274" width="1" height="3"/>
<rect x="531" y="277" width="1" height="3"/>
<rect x="532" y="280" width="1" height="3"/>
<rect x="533" y="283" width="1" height="2"/>
<rect x="534" y="285" width="1" height="2"/>
<rect x="535" y="287" width="1" height="3"/>
<rect x="536" y="290" width="1" height="2"/>
<rect x="537" y="292" width="1" height="2"/>
<rect x="538" y="294" width="1" height="3"/>
<rect x="539" y="297" width="1" height="2"/>
<rect x="540" y="299" width="1" height="2"/>
<rect x="541" y="301" width="1" height="3"/>
<rect x="542" y="304" width="1" height="2"/>
<rect x="543" y="306" width="1" height="2"/>
<rect x="544" y="308" width="1" height="3"/>
<rect x="545" y="311" width="1" height="2"/>
<rect x="546" y="313" width="1" height="2"/>
<rect x="547" y="315" width="1" height="2"/>
<rect x="548" y="317" width="1" height="3"/>
<rect x="549" y="320" width="1" height="2"/>
<rect x="550" y="322" width="1" height="2"/>
<rect x="551" y="324" width="1" height="3"/>
<rect x="552" y="327" width="1" height="2"/>
<rect x="553" y="329" width="1" height="2"/>
<rect x="554" y="331" width="1" height="2"/>
<rect x="555" y="333" width="1" height="3"/>
<rect x="556" y="336" width="1" height="2"/>
<rect x="557" y="338" width="1" height="2"/>
<rect x="558" y="340" width="1" height="2"/>
<rect x="559" y="342" width="1" height="2"/>
<rect x="560" y="344" width="1" height="2"/>
<rect x="561" y="346" width="1" height="2"/>
<rect x="562" y="348" width="1" height="2"/>
<rect x="563" y="350" width="1" height="2"/>
<rect x="564" y="352" width="1" height="2"/>
<rect x="565" y="354" width="1" height="2"/>
<rect x="566" y="356" width="1" height="2"/>
<rect x="567" y="358" width="1" height="2"/>
<rect x="568" y="360" width="1" height="2"/>
<rect x="569" y="362" width="1" height="2"/>
<rect x="570" y="364" width="1" height="2"/>
<rect x="571" y="366" width="1" height="2"/>
<rect x="572" y="368" width="1" height="2"/>
<rect x="573" y="370" width="1" height="1"/>
<rect x="574" y="371" width="1" height="2"/>
<rect x="575" y="373" width="1" height="2"/>
<rect x="576" y="375" width="1" height="2"/>
<rect x="577" y="377" width="1" height="1"/>
<rect x="578" y="378" width="1" height="2"/>
<rect x="579" y="380" width="1" height="2"/>
<rect x="580" y="382" width="1" height="2"/>
<rect x="581" y="384" width="1" height="1"/>
<rect x="582" y="385" width="1" height="2"/>
<rect x="583" y="387" width="1" height="1"/>
<rect x="584" y="388" width="1" height="2"/>
<rect x="585" y="390" width="1" height="1"/>
<rect x="586" y="391" width="1" height="1"/>
<rect x="587" y="392" width="1" height="2"/>
<rect x="588" y="394" width="1" height="1"/>
<rect x="589" y="395" width="1" height="2"/>
<rect x="590" y="397" width="1" height="1"/>
<rect x="591" y="398" width="1" height="1"/>
<rect x="592" y="399" width="1" height="1"/>
<rect x="593" y="400" width="1" height="1"/>
<rect x="594" y="401" width="1" height="1"/>
<rect x="595" y="402" width="1" height="1"/>
<rect x="596" y="403" width="1" height="1"/>
<rect x="597" y="404" width="1" height="1"/>
<rect x="598" y="405" width="1" height="1"/>
<rect x="599" y="406" width="1" height="1"/>
<rect x="600" y="407" width="1" height="1"/>
<rect x="601" y="408" width="1" height="1"/>
<rect x="602" y="409" width="2" height="1"/>
<rect x="604" y="410" width="1" height="1"/>
<rect x="605" y="411" width="1" height="1"/>
<rect x="606" y="412" width="2" height="1"/>
<rect x="608" y="413" width="1" height="1"/>
<rect x="609" y="414" width="2" height="1"/>
<rect x="611" y="415" width="1" height="1"/>
<rect x="612" y="416" width="1" height="1"/>
<rect x="613" y="417" width="2" height="1"/>
<rect x="615" y="418" width="1" height="1"/>
<rect x="616" y="419" width="2" height="1"/>
<rect x="618" y="420" width="2" height="1"/>
<rect x="620" y="421" width="2" height="1"/>
<rect x="622" y="422" width="2" height="1"/>
<rect x="624" y="423" width="11" height="1"/>
<rect x="635" y="422" width="3" height="1"/>
<rect x="638" y="421" width="3" height="1"/>
<rect x="641" y="420" width="2" height="1"/>
<rect x="643" y="419" width="3" height="1"/>
<rect x="646" y="418" width="3" height="1"/>
<rect x="649" y="417" width="6" height="1"/>
<rect x="655" y="416" width="9" height="1"/>
<rect x="664" y="415" width="2" height="1"/>
<rect x="666" y="414" width="2" height="1"/>
<rect x="668" y="413" width="2" height="1"/>
<rect x="670" y="412" width="3" height="1"/>
<rect x="673" y="411" width="2" height="1"/>
<rect x="675" y="410" width="2" height="1"/>
<rect x="677" y="409" width="2" height="1"/>
<rect x="679" y="408" width="3" height="1"/>
<rect x="682" y="407" width="3" height="1"/>
<rect x="685" y="406" width="17" height="1"/>
<rect x="702" y="405" width="4" height="1"/>
<rect x="706" y="404" width="3" height="1"/>
<rect x="709" y="403" width="1" height="1"/>
<rect x="710" y="402" width="1" height="1"/>
<rect x="711" y="401" width="1" height="1"/>
<rect x="712" y="400" width="1" height="1"/>
<rect x="713" y="399" width="2" height="1"/>
<rect x="715" y="398" width="2" height="1"/>
<rect x="717" y="397" width="2" height="1"/>
<rect x="719" y="396" width="2" height="1"/>
<rect x="721" y="395" width="2" height="1"/>
<rect x="723" y="394" width="2" height="1"/>
<rect x="725" y="393" width="2" height="1"/>
<rect x="727" y="392" width="2" height="1"/>
<rect x="729" y="391" width="2" height="1"/>
<rect x="731" y="390" width="2" height="1"/>
<rect x="733" y="389" width="4" height="1"/>
<rect x="737" y="388" width="6" height="1"/>
<rect x="743" y="387" width="4" height="1"/>
<rect x="747" y="386" width="3" height="1"/>
<rect x="750" y="385" width="2" height="1"/>
<rect x="752" y="384" width="2" height="1"/>
<rect x="754" y="383" width="3" height="1"/>
<rect x="757" y="382" width="2" height="1"/>
<rect x="759" y="381" width="15" height="1"/>
<rect x="774" y="380" width="3" height="1"/>
<rect x="777" y="379" width="3" height="1"/>
<rect x="780" y="378" width="3" height="1"/>
<rect x="783" y="377" width="2" height="1"/>
<rect x="785" y="376" width="3" height="1"/>
<rect x="788" y="375" width="2" height="1"/>
<rect x="790" y="374" width="3" height="1"/>
<rect x="793" y="373" width="2" height="1"/>
<rect x="795" y="372" width="3" height="1"/>
<rect x="798" y="371" width="2" height="1"/>
<rect x="800" y="370" width="1" height="1"/>
<rect x="801" y="369" width="2" height="1"/>
<rect x="803" y="368" width="2" height="1"/>
<rect x="805" y="367" width="2" height="1"/>
<rect x="807" y="366" width="1" height="1"/>
<rect x="808" y="365" width="2" height="1"/>
<rect x="810" y="364" width="2" height="1"/>
<rect x="812" y="363" width="2" height="1"/>
<rect x="814" y="362" width="1" height="1"/>
<rect x="815" y="361" width="3" height="1"/>
<rect x="818" y="360" width="6" height="1"/>
<rect x="824" y="361" width="2" height="1"/>
<rect x="826" y="362" width="7" height="1"/>
<rect x="833" y="363" width="30" height="1"/>
<rect x="863" y="362" width="25" height="1"/>
<rect x="888" y="361" width="4" height="1"/>
<rect x="892" y="360" width="4" height="1"/>
<rect x="896" y="359" width="3" height="1"/>
<rect x="899" y="358" width="3" height="1"/>
<rect x="902" y="357" width="3" height="1"/>
<rect x="905" y="356" width="3" height="1"/>
<rect x="908" y="355" width="2" height="1"/>
<rect x="910" y="354" width="2" height="1"/>
<rect x="912" y="353" width="2" height="1"/>
<rect x="914" y="352" width="3" height="1"/>
<rect x="917" y="351" width="2" height="1"/>
<rect x="919" y="350" width="2" height="1"/>
<rect x="921" y="349" width="3" height="1"/>
<rect x="924" y="348" width="2" height="1"/>
<rect x="926" y="347" width="3" height="1"/>
<rect x="929" y="346" width="2" height="1"/>
<rect x="931" y="345" width="3" height="1"/>
<rect x="934" y="344" width="1" height="1"/>
<rect x="935" y="343" width="2" height="1"/>
<rect x="937" y="342" width="1" height="1"/>
<rect x="938" y="341" width="2" height="1"/>
<rect x="940" y="340" width="1" height="1"/>
<rect x="941" y="339" width="1" height="1"/>
<rect x="942" y="338" width="2" height="1"/>
<rect x="944" y="337" width="1" height="1"/>
<rect x="945" y="336" width="2" height="1"/>
<rect x="947" y="335" width="1" height="1"/>
<rect x="948" y="334" width="1" height="1"/>
<rect x="949" y="333" width="1" height="1"/>
<rect x="950" y="332" width="2" height="1"/>
<rect x="952" y="331" width="1" height="1"/>
<rect x="953" y="330" width="1" height="1"/>
<rect x="954" y="329" width="1" height="1"/>
<rect x="955" y="328" width="2" height="1"/>
<rect x="957" y="327" width="1" height="1"/>
<rect x="958" y="326" width="1" height="1"/>
<rect x="959" y="325" width="1" height="1"/>
<rect x="960" y="324" width="1" height="1"/>
<rect x="961" y="323" width="2" height="1"/>
<rect x="963" y="322" width="1" height="1"/>
<rect x="964" y="321" width="1" height="1"/>
<rect x="965" y="320" width="1" height="1"/>
<rect x="966" y="319" width="1" height="1"/>
<rect x="967" y="318" width="1" height="1"/>
<rect x="968" y="317" width="1" height="1"/>
<rect x="969" y="316" width="1" height="1"/>
<rect x="970" y="315" width="1" height="1"/>
<rect x="971" y="314" width="1" height="1"/>
<rect x="972" y="312" width="1" height="2"/>
<rect x="973" y="311" width="1" height="1"/>
<rect x="974" y="310" width="1" height="1"/>
<rect x="975" y="308" width="1" height="2"/>
<rect x="976" y="307" width="1" height="1"/>
<rect x="977" y="306" width="1" height="1"/>
<rect x="978" y="304" width="1" height="2"/>
<rect x="979" y="303" width="1" height="1"/>
<rect x="980" y="302" width="1" height="1"/>
<rect x="981" y="300" width="1" height="2"/>
<rect x="982" y="299" width="1" height="1"/>
<rect x="983" y="298" width="1" height="1"/>
<rect x="984" y="296" width="1" height="2"/>
<rect x="985" y="295" width="1" height="1"/>
<rect x="986" y="294" width="1" height="1"/>
<rect x="987" y="292" width="1" height="2"/>
<rect x="988" y="291" width="1" height="1"/>
<rect x="989" y="290" width="1" height="1"/>
<rect x="990" y="289" width="1" height="1"/>
<rect x="991" y="288" width="1" height="1"/>
<rect x="992" y="287" width="1" height="1"/>
<rect x="993" y="285" width="1" height="2"/>
<rect x="994" y="284" width="1" height="1"/>
<rect x="995" y="283" width="1" height="1"/>
<rect x="996" y="282" width="1" height="1"/>
<rect x="997" y="281" width="1" height="1"/>
<rect x="998" y="280" width="1" height="1"/>
</g>
<g fill="#000">
<rect x="20" y="24" width="987" height="1"/>
<rect x="20" y="563" width="987" height="1"/>
<rect x="20" y="24" width="1" height="540"/>
<rect x="1006" y="24" width="1" height="540"/>
<rect x="18" y="72" width="2" height="1"/><rect x="1007" y="72" width="2" height="1"/>
<rect x="18" y="63" width="2" height="1"/><rect x="1007" y="63" width="2" height="1"/>
<rect x="18" y="54" width="2" height="1"/><rect x="1007" y="54" width="2" height="1"/>
<rect x="18" y="46" width="2" height="1"/><rect x="1007" y="46" width="2" height="1"/>
<rect x="18" y="37" width="2" height="1"/><rect x="1007" y="37" width="2" height="1"/>
<rect x="18" y="28" width="2" height="1"/><rect x="1007" y="28" width="2" height="1"/>
<rect x="18" y="90" width="2" height="1"/><rect x="1007" y="90" width="2" height="1"/>
<rect x="18" y="99" width="2" height="1"/><rect x="1007" y="99" width="2" height="1"/>
<rect x="18" y="107" width="2" height="1"/><rect x="1007" y="107" width="2" height="1"/>
<rect x="18" y="116" width="2" height="1"/><rect x="1007" y="116" width="2" height="1"/>
<rect x="18" y="125" width="2" height="1"/><rect x="1007" y="125" width="2" height="1"/>
<rect x="18" y="134" width="2" height="1"/><rect x="1007" y="134" width="2" height="1"/>
<rect x="18" y="143" width="2" height="1"/><rect x="1007" y="143" width="2" height="1"/>
<rect x="18" y="151" width="2" height="1"/><rect x="1007" y="151" width="2" height="1"/>
<rect x="18" y="160" width="2" height="1"/><rect x="1007" y="160" width="2" height="1"/>
<rect x="18" y="178" width="2" height="1"/><rect x="1007" y="178" width="2" height="1"/>
<rect x="18" y="187" width="2" height="1"/><rect x="1007" y="187" width="2" height="1"/>
<rect x="18" y="195" width="2" height="1"/><rect x="1007" y="195" width="2" height="1"/>
<rect x="18" y="204" width="2" height="1"/><rect x="1007" y="204" width="2" height="1"/>
<rect x="18" y="213" width="2" height="1"/><rect x="1007" y="213" width="2" height="1"/>
<rect x="18" y="222" width="2" height="1"/><rect x="1007" y="222" width="2" height="1"/>
<rect x="18" y="231" width="2" height="1"/><rect x="1007" y="231" width="2" height="1"/>
<rect x="18" y="239" width="2" height="1"/><rect x="1007" y="239" width="2" height="1"/>
<rect x="18" y="248" width="2" height="1"/><rect x="1007" y="248" width="2" height="1"/>
<rect x="18" y="266" width="2" height="1"/><rect x="1007" y="266" width="2" height="1"/>
<rect x="18" y="275" width="2" height="1"/><rect x="1007" y="275" width="2" height="1"/>
<rect x="18" y="283" width="2" height="1"/><rect x="1007" y="283" width="2" height="1"/>
<rect x="18" y="292" width="2" height="1"/><rect x="1007" y="292" width="2" height="1"/>
<rect x="18" y="301" width="2" height="1"/><rect x="1007" y="301" width="2" height="1"/>
<rect x="18" y="310" width="2" height="1"/><rect x="1007" y="310" width="2" height="1"/>
<rect x="18" y="319" width="2" height="1"/><rect x="1007" y="319" width="2" height="1"/>
<rect x="18" y="327" width="2" height="1"/><rect x="1007" y="327" width="2" height="1"/>
<rect x="18" y="336" width="2" height="1"/><rect x="1007" y="336" width="2" height="1"/>
<rect x="18" y="354" width="2" height="1"/><rect x="1007" y="354" width="2" height="1"/>
<rect x="18" y="363" width="2" height="1"/><rect x="1007" y="363" width="2" height="1"/>
<rect x="18" y="371" width="2" height="1"/><rect x="1007" y="371" width="2" height="1"/>
<rect x="18" y="380" width="2" height="1"/><rect x="1007" y="380" width="2" height="1"/>
<rect x="18" y="389" width="2" height="1"/><rect x="1007" y="389" width="2" height="1"/>
<rect x="18" y="398" width="2" height="1"/><rect x="1007" y="398" width="2" height="1"/>
<rect x="18" y="407" width="2" height="1"/><rect x="1007" y="407" width="2" height="1"/>
<rect x="18" y="415" width="2" height="1"/><rect x="1007" y="415" width="2" height="1"/>
<rect x="18" y="424" width="2" height="1"/><rect x="1007" y="424" width="2" height="1"/>
<rect x="18" y="441" width="2" height="1"/><rect x="1007" y="441" width="2" height="1"/>
<rect x="18" y="450" width="2" height="1"/><rect x="1007" y="450" width="2" height="1"/>
<rect x="18" y="458" width="2" height="1"/><rect x="1007" y="458" width="2" height="1"/>
<rect x="18" y="467" width="2" height="1"/><rect x="1007" y="467" width="2" height="1"/>
<rect x="18" y="476" width="2" height="1"/><rect x="1007" y="476" width="2" height="1"/>
<rect x="18" y="485" width="2" height="1"/><rect x="1007" y="485" width="2" height="1"/>
<rect x="18" y="494" width="2" height="1"/><rect x="1007" y="494" width="2" height="1"/>
<rect x="18" y="502" width="2" height="1"/><rect x="1007" y="502" width="2" height="1"/>
<rect x="18" y="511" width="2" height="1"/><rect x="1007" y="511" width="2" height="1"/>
<rect x="18" y="529" width="2" height="1"/><rect x="1007" y="529" width="2" height="1"/>
<rect x="18" y="538" width="2" height="1"/><rect x="1007" y="538" width="2" height="1"/>
<rect x="18" y="546" width="2" height="1"/><rect x="1007" y="546" width="2" height="1"/>
<rect x="18" y="555" width="2" height="1"/><rect x="1007" y="555" width="2" height="1"/>
<rect x="18" y="82" width="2" height="1"/><rect x="1007" y="82" width="2" height="1"/>
<rect x="18" y="170" width="2" height="1"/><rect x="1007" y="170" width="2" height="1"/>
<rect x="18" y="258" width="2" height="1"/><rect x="1007" y="258" width="2" height="1"/>
<rect x="18" y="346" width="2" height="1"/><rect x="1007" y="346" width="2" height="1"/>
<rect x="18" y="433" width="2" height="1"/><rect x="1007" y="433" width="2" height="1"/>
<rect x="18" y="521" width="2" height="1"/><rect x="1007" y="521" width="2" height="1"/>
<rect x="27" y="564" width="1" height="1"/>
<rect x="44" y="564" width="1" height="1"/>
<rect x="77" y="564" width="1" height="1"/>
<rect x="94" y="564" width="1" height="1"/>
<rect x="127" y="564" width="1" height="1"/>
<rect x="143" y="564" width="1" height="1"/>
<rect x="175" y="564" width="1" height="1"/>
<rect x="191" y="564" width="1" height="1"/>
<rect x="224" y="564" width="1" height="1"/>
<rect x="240" y="564" width="1" height="1"/>
<rect x="273" y="564" width="1" height="1"/>
<rect x="289" y="564" width="1" height="1"/>
<rect x="322" y="564" width="1" height="1"/>
<rect x="338" y="564" width="1" height="1"/>
<rect x="371" y="564" width="1" height="1"/>
<rect x="387" y="564" width="1" height="1"/>
<rect x="420" y="564" width="1" height="1"/>
<rect x="436" y="564" width="1" height="1"/>
<rect x="469" y="564" width="1" height="1"/>
<rect x="486" y="564" width="1" height="1"/>
<rect x="519" y="564" width="1" height="1"/>
<rect x="536" y="564" width="1" height="1"/>
<rect x="569" y="564" width="1" height="1"/>
<rect x="585" y="564" width="1" height="1"/>
<rect x="617" y="564" width="1" height="1"/>
<rect x="633" y="564" width="1" height="1"/>
<rect x="666" y="564" width="1" height="1"/>
<rect x="682" y="564" width="1" height="1"/>
<rect x="715" y="564" width="1" height="1"/>
<rect x="732" y="564" width="1" height="1"/>
<rect x="765" y="564" width="1" height="1"/>
<rect x="781" y="564" width="1" height="1"/>
<rect x="813" y="564" width="1" height="1"/>
<rect x="829" y="564" width="1" height="1"/>
<rect x="862" y="564" width="1" height="1"/>
<rect x="879" y="564" width="1" height="1"/>
<rect x="912" y="564" width="1" height="1"/>
<rect x="929" y="564" width="1" height="1"/>
<rect x="962" y="564" width="1" height="1"/>
<rect x="978" y="564" width="1" height="1"/>
<rect x="61" y="564" width="1" height="2"/>
<rect x="111" y="564" width="1" height="2"/>
<rect x="159" y="564" width="1" height="3"/>
<rect x="208" y="564" width="1" height="2"/>
<rect x="257" y="564" width="1" height="2"/>
<rect x="306" y="564" width="1" height="2"/>
<rect x="355" y="564" width="1" height="3"/>
<rect x="404" y="564" width="1" height="2"/>
<rect x="453" y="564" width="1" height="2"/>
<rect x="503" y="564" width="1" height="2"/>
<rect x="553" y="564" width="1" height="3"/>
<rect x="601" y="564" width="1" height="2"/>
<rect x="650" y="564" width="1" height="2"/>
<rect x="699" y="564" width="1" height="2"/>
<rect x="749" y="564" width="1" height="3"/>
<rect x="797" y="564" width="1" height="2"/>
<rect x="846" y="564" width="1" height="2"/>
<rect x="896" y="564" width="1" height="2"/>
<rect x="946" y="564" width="1" height="3"/>
<rect x="994" y="564" width="1" height="2"/>
</g></svg>
<div class="t" style="left:20px;letter-spacing:-0.2px">Crude Oil IPE 1st Month Continuation (CO1) 121.84 <span style="color:#e00000">-0.38</span></div>
<div class="t" style="left:758.5px;letter-spacing:-0.28px">www.fullermoney.com</div>
<div class="t" style="left:928px;letter-spacing:0.05px">6 Apr 2011</div>
<div class="lg" style="top:30px;color:#0000f0;letter-spacing:0.13px">Weekly</div>
<div class="lg" style="top:47px;color:#a52020;letter-spacing:0.05px">EMA 200</div>
<div class="xl" style="left:30.3px">Jul</div><div class="xl" style="left:80.8px">Oct</div><div class="xl yr" style="left:131.0px">2007</div><div class="xl" style="left:177.3px">Apr</div><div class="xl" style="left:226.3px">Jul</div><div class="xl" style="left:275.8px">Oct</div><div class="xl yr" style="left:327.0px">2008</div><div class="xl" style="left:373.3px">Apr</div><div class="xl" style="left:422.3px">Jul</div><div class="xl" style="left:472.8px">Oct</div><div class="xl yr" style="left:525.0px">2009</div><div class="xl" style="left:570.3px">Apr</div><div class="xl" style="left:619.3px">Jul</div><div class="xl" style="left:668.8px">Oct</div><div class="xl yr" style="left:721.0px">2010</div><div class="xl" style="left:766.3px">Apr</div><div class="xl" style="left:815.3px">Jul</div><div class="xl" style="left:865.8px">Oct</div><div class="xl yr" style="left:918.0px">2011</div><div class="xl" style="left:963.3px">Apr</div><div class="yl" style="top:75px">140</div><div class="yl" style="top:163px">120</div><div class="yl" style="top:251px">100</div><div class="yl" style="top:339px">80</div><div class="yl" style="top:426px">60</div><div class="yl" style="top:514px">40</div>
<div class="cp">© 2011 Stockcube Research Ltd</div>
</body></html>
